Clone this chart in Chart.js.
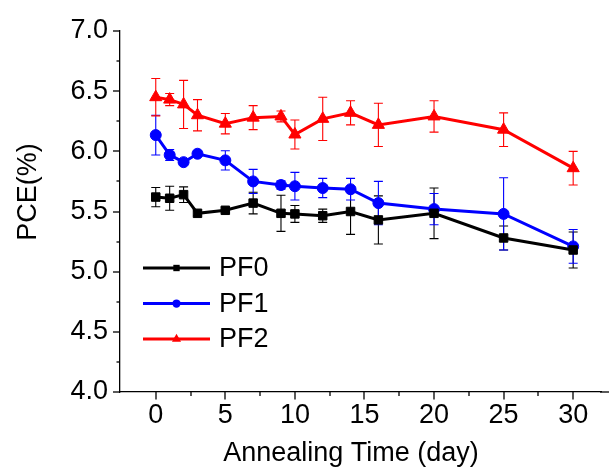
<!DOCTYPE html>
<html><head><meta charset="utf-8">
<script src="https://cdn.jsdelivr.net/npm/chart.js@4.4.1/dist/chart.umd.min.js"></script>
<style>html,body{margin:0;padding:0;background:#fff;}canvas{display:block;}</style>
</head><body>
<canvas id="c" width="609" height="475"></canvas>
<script>
// ---- data ----
const days = [0, 1, 2, 3, 5, 7, 9, 10, 12, 14, 16, 20, 25, 30];
const pf0 = [5.62, 5.61, 5.64, 5.485, 5.51, 5.57, 5.485, 5.48, 5.465, 5.50, 5.43, 5.485, 5.28, 5.18];
const pf0Err = [0.08, 0.10, 0.065, 0.02, 0.02, 0.09, 0.15, 0.07, 0.055, 0.19, 0.20, 0.21, 0.10, 0.15];
const pf1 = [6.135, 5.97, 5.91, 5.98, 5.925, 5.75, 5.72, 5.71, 5.695, 5.685, 5.57, 5.52, 5.48, 5.21];
const pf1Err = [0.165, 0.045, 0.02, 0.02, 0.08, 0.10, 0.035, 0.115, 0.08, 0.09, 0.18, 0.13, 0.30, 0.14];
const pf2 = [6.45, 6.43, 6.39, 6.30, 6.23, 6.28, 6.29, 6.14, 6.27, 6.32, 6.22, 6.29, 6.18, 5.86];
const pf2Err = [0.155, 0.05, 0.20, 0.13, 0.085, 0.10, 0.045, 0.12, 0.18, 0.10, 0.18, 0.13, 0.14, 0.14];
const seriesNames = ['PF0', 'PF1', 'PF2'];
const xTickValues = [0, 5, 10, 15, 20, 25, 30];
const yTickValues = [4.0, 4.5, 5.0, 5.5, 6.0, 6.5, 7.0];
const xTitle = 'Annealing Time (day)';
const yTitle = 'PCE(%)';

const FONT = "Arial, 'Liberation Sans', sans-serif";
const seriesVals = [pf0, pf1, pf2];
const seriesErr = [pf0Err, pf1Err, pf2Err];
const colors = ['#000000', '#0000ff', '#ff0000'];
const styles = ['rect', 'circle', 'triangle'];
const radii = [6, 5.5, 7];

function toPoints(vals) { return days.map((d, i) => ({x: d, y: vals[i]})); }

const datasets = seriesNames.map((n, i) => ({
  label: n,
  data: toPoints(seriesVals[i]),
  errors: seriesErr[i],
  borderColor: colors[i],
  backgroundColor: colors[i],
  pointBackgroundColor: colors[i],
  pointBorderColor: colors[i],
  pointStyle: styles[i],
  pointRadius: radii[i],
  pointBorderWidth: 1,
  borderWidth: 3,
  tension: 0,
  fill: false
}));

function markPath(ctx, style, x, y, r) {
  ctx.beginPath();
  if (style === 'rect') {
    const s = Math.SQRT1_2 * r;
    ctx.rect(x - s, y - s, 2 * s, 2 * s);
  } else if (style === 'circle') {
    ctx.arc(x, y, r, 0, Math.PI * 2);
  } else {
    ctx.moveTo(x, y - r);
    ctx.lineTo(x - r * Math.sin(Math.PI / 3), y + r * 0.5);
    ctx.lineTo(x + r * Math.sin(Math.PI / 3), y + r * 0.5);
    ctx.closePath();
  }
}

const errorBars = {
  id: 'errorBars',
  beforeDatasetsDraw(chart) {
    const ctx = chart.ctx, xs = chart.scales.x, ys = chart.scales.y;
    ctx.save();
    chart.data.datasets.forEach(ds => {
      ctx.strokeStyle = ds.borderColor;
      ctx.lineWidth = 1.1;
      ds.data.forEach((p, j) => {
        const e = ds.errors[j];
        const x = xs.getPixelForValue(p.x);
        const yt = ys.getPixelForValue(p.y + e);
        const yb = ys.getPixelForValue(p.y - e);
        ctx.beginPath();
        ctx.moveTo(x, yt); ctx.lineTo(x, yb);
        ctx.moveTo(x - 4.5, yt); ctx.lineTo(x + 4.5, yt);
        ctx.moveTo(x - 4.5, yb); ctx.lineTo(x + 4.5, yb);
        ctx.stroke();
      });
    });
    ctx.restore();
  }
};

const axisDecor = {
  id: 'axisDecor',
  afterDraw(chart) {
    const ctx = chart.ctx, xs = chart.scales.x, ys = chart.scales.y, a = chart.chartArea;
    ctx.save();
    ctx.strokeStyle = '#000';
    ctx.lineWidth = 1.3;
    // extend x axis line to the canvas edge
    ctx.beginPath();
    ctx.moveTo(a.right - 1, a.bottom); ctx.lineTo(chart.width, a.bottom);
    ctx.stroke();
    for (let v = 4; v <= 7.0001; v += 0.25) {
      const py = Math.round(ys.getPixelForValue(v));
      const major = Math.abs(v * 2 - Math.round(v * 2)) < 1e-6;
      ctx.beginPath();
      ctx.moveTo(a.left - (major ? 7 : 3.5), py);
      ctx.lineTo(a.left, py);
      ctx.stroke();
    }
    for (let d = 0; d <= 32; d += 2.5) {
      const px = Math.round(xs.getPixelForValue(d));
      const major = d % 5 === 0;
      ctx.beginPath();
      ctx.moveTo(px, a.bottom);
      ctx.lineTo(px, a.bottom + (major ? 7.5 : 4));
      ctx.stroke();
    }
    ctx.fillStyle = '#000';
    ctx.font = '27px ' + FONT;
    ctx.textAlign = 'center';
    ctx.textBaseline = 'middle';
    ctx.fillText(xs.options.title.text, 351, 454);
    ctx.save();
    ctx.translate(29, 192);
    ctx.rotate(-Math.PI / 2);
    ctx.fillText(ys.options.title.text, 0, 0);
    ctx.restore();
    const baseY = 268, step = 35.5;
    chart.data.datasets.forEach((ds, i) => {
      const y = baseY + i * step;
      ctx.strokeStyle = ds.borderColor;
      ctx.lineWidth = 3;
      ctx.beginPath();
      ctx.moveTo(143, y); ctx.lineTo(210, y);
      ctx.stroke();
      ctx.fillStyle = ds.backgroundColor;
      markPath(ctx, ds.pointStyle, 176.5, y, ds.pointRadius * 0.75);
      ctx.fill();
      ctx.fillStyle = '#000';
      ctx.textAlign = 'left';
      ctx.fillText(ds.label, 219, y + 1);
    });
    ctx.restore();
  }
};

new Chart(document.getElementById('c'), {
  type: 'line',
  data: { datasets },
  options: {
    responsive: false,
    animation: false,
    devicePixelRatio: 1,
    layout: { padding: { top: 31, right: 0, left: 0, bottom: 0 } },
    plugins: { legend: { display: false }, tooltip: { enabled: false } },
    scales: {
      x: {
        type: 'linear',
        min: -2.57,
        max: 32.0,
        afterBuildTicks: s => { s.ticks = xTickValues.map(v => ({value: v})); },
        afterFit: s => { s.height = 83; s.paddingLeft = 0; s.paddingRight = 0; },
        ticks: { color: '#000', font: { family: FONT, size: 27 }, padding: 7, maxRotation: 0,
                 callback: v => String(v) },
        grid: { display: false, drawTicks: false },
        border: { display: true, color: '#000', width: 1.3 },
        title: { display: false, text: xTitle }
      },
      y: {
        type: 'linear',
        min: 4,
        max: 7,
        afterBuildTicks: s => { s.ticks = yTickValues.map(v => ({value: v})); },
        afterFit: s => { s.width = 120; s.paddingTop = 0; s.paddingBottom = 0; },
        ticks: { color: '#000', font: { family: FONT, size: 27 }, padding: 12,
                 callback: v => Number(v).toFixed(1) },
        grid: { display: false, drawTicks: false },
        border: { display: true, color: '#000', width: 1.3 },
        title: { display: false, text: yTitle }
      }
    }
  },
  plugins: [errorBars, axisDecor]
});
</script>
</body></html>
